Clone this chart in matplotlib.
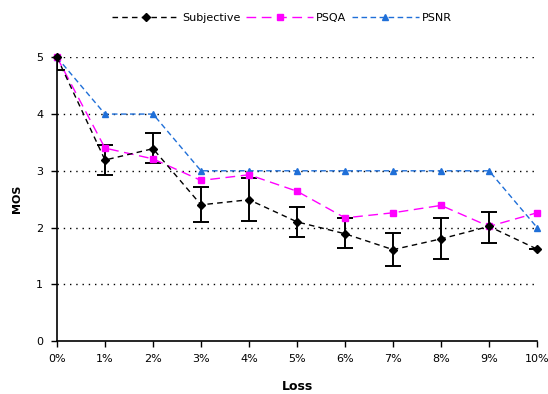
import matplotlib
matplotlib.use("Agg")
from matplotlib import pyplot as plt

# ---------------------------------------------------------------------------
loss_labels = ["0%", "1%", "2%", "3%", "4%", "5%", "6%", "7%", "8%", "9%", "10%"]
loss = list(range(len(loss_labels)))

subjective = [5.0, 3.19, 3.39, 2.40, 2.49, 2.10, 1.89, 1.61, 1.80, 2.02, 1.62]
subj_low = [4.77, 2.93, 3.13, 2.10, 2.12, 1.83, 1.64, 1.33, 1.45, 1.73, 1.62]
subj_high = [5.23, 3.46, 3.66, 2.72, 2.87, 2.37, 2.17, 1.90, 2.16, 2.27, 1.62]

psqa = [5.0, 3.40, 3.21, 2.83, 2.93, 2.64, 2.17, 2.26, 2.39, 2.02, 2.26]
psnr = [5, 4, 4, 3, 3, 3, 3, 3, 3, 3, 2]

# ---------------------------------------------------------------------------
fig = plt.figure(figsize=(5.48, 3.94), dpi=100)
ax = fig.add_axes((0.104, 0.1345, 0.876, 0.72))

yerr = [[s - lo for s, lo in zip(subjective, subj_low)],
        [hi - s for s, hi in zip(subjective, subj_high)]]
ax.errorbar(loss, subjective, yerr=yerr, fmt="none", ecolor="black",
            elinewidth=1.4, capsize=5.5, capthick=1.4, zorder=2)

ax.plot(loss, psnr, color="#1f6fd8", linestyle=(0, (4, 2.5)), linewidth=1.0,
        marker="^", markersize=5, label="PSNR", clip_on=False, zorder=3)
ax.plot(loss, psqa, color="#ff00ff", linestyle=(0, (7, 4)), linewidth=1.0,
        marker="s", markersize=4.5, label="PSQA", clip_on=False, zorder=4)
ax.plot(loss, subjective, color="black", linestyle=(0, (4, 3)), linewidth=1.0,
        marker="D", markersize=3.8, label="Subjective", clip_on=False, zorder=5)

ax.set_xlim(0, 10)
ax.set_ylim(0, 5)
ax.set_xticks(loss)
ax.set_xticklabels(loss_labels, fontsize=8)
ax.set_yticks(range(6))
ax.tick_params(axis="y", labelsize=8, length=4, width=1, direction="out", pad=6)
ax.tick_params(axis="x", length=4, width=1, direction="out", pad=5)
for v in range(1, 6):
    ax.axhline(v, color="black", linestyle=(0, (1, 3.5)), linewidth=1.0, zorder=1)

for side in ("top", "right"):
    ax.spines[side].set_visible(False)
ax.spines["left"].set_linewidth(1.2)
ax.spines["bottom"].set_linewidth(1.2)

ax.set_xlabel("Loss", fontsize=9, fontweight="bold", labelpad=12)
ax.set_ylabel("MOS", fontsize=8, fontweight="bold", labelpad=10)

handles, labels = ax.get_legend_handles_labels()
order = [2, 1, 0]
fig.legend([handles[i] for i in order], [labels[i] for i in order],
           loc="center", bbox_to_anchor=(0.515, 0.955), ncol=3, frameon=False,
           fontsize=8, handlelength=6, columnspacing=0.5, handletextpad=0.3)

fig.savefig("out.png", dpi=100, facecolor="white")
